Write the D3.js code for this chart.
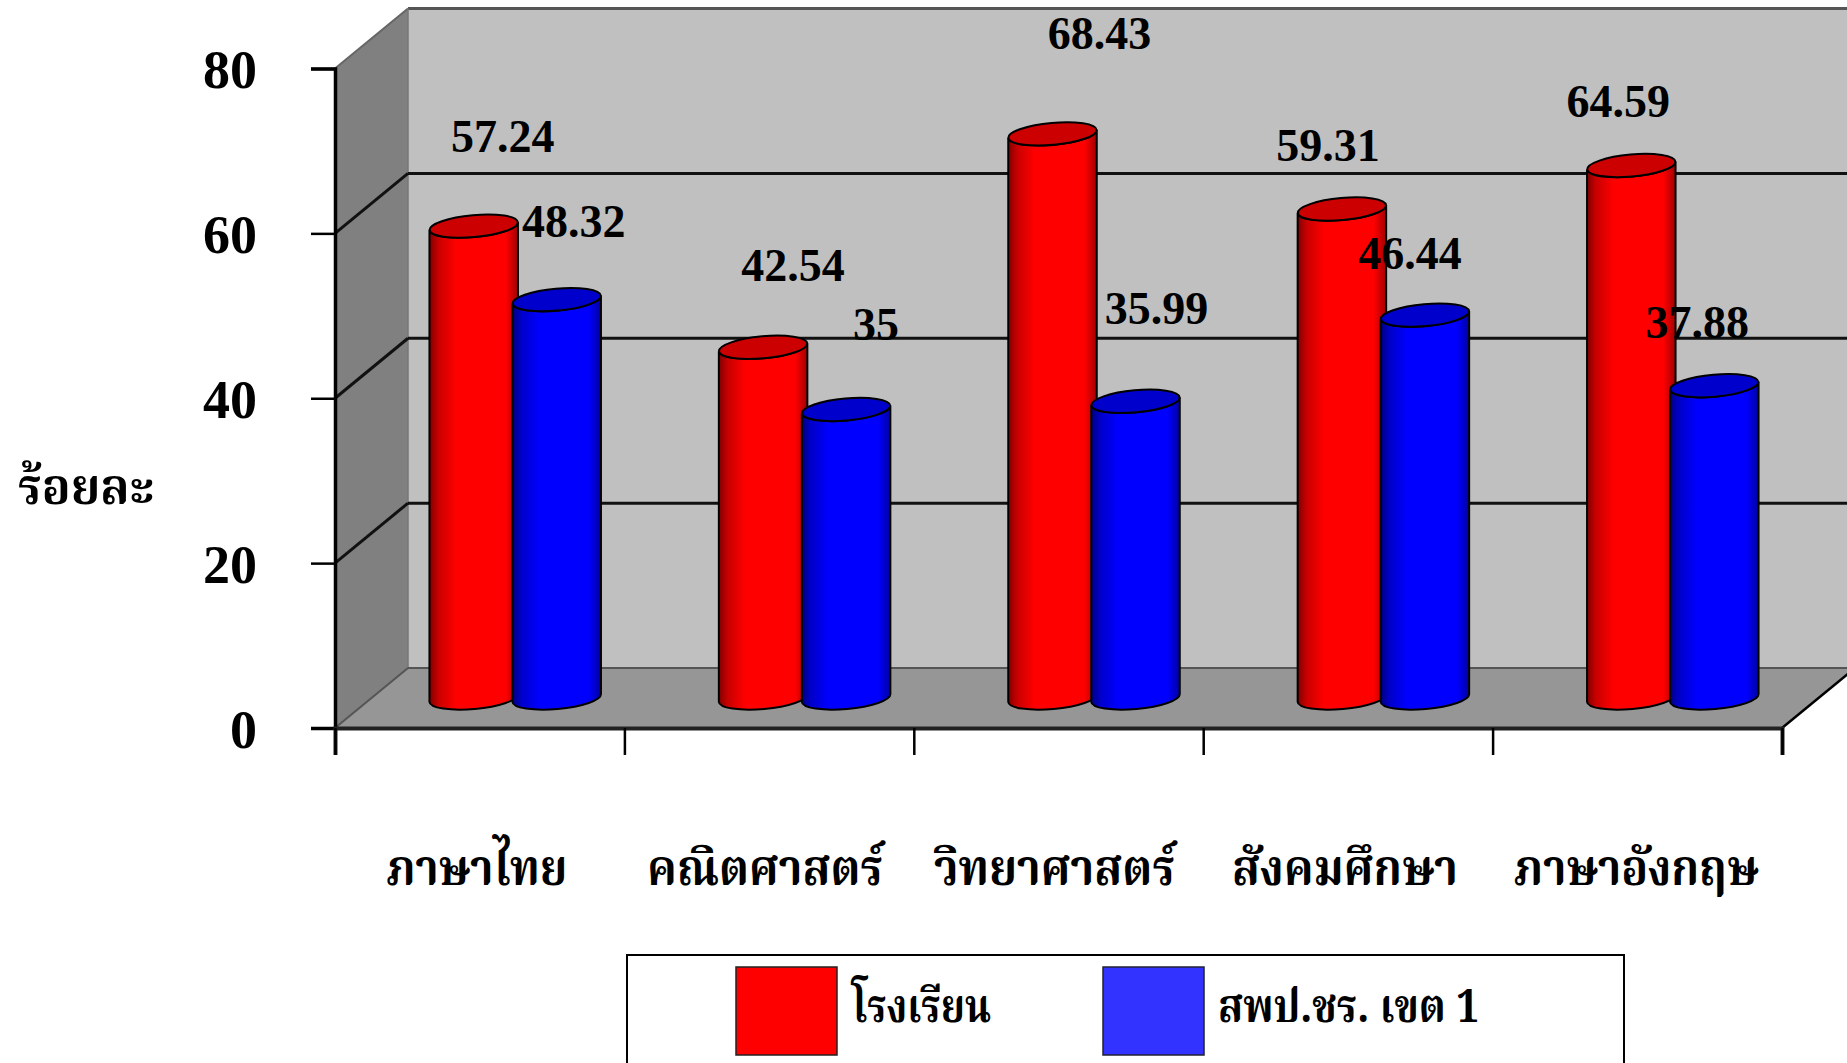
<!DOCTYPE html>
<html>
<head>
<meta charset="utf-8">
<script src="https://cdn.jsdelivr.net/npm/d3@7"></script>
<style>
  html, body { margin: 0; padding: 0; background: #fff; overflow: hidden; }
  svg { display: block; }
  text { font-family: "Liberation Serif", "Noto Serif Thai", "Noto Sans Thai", "DejaVu Serif", serif; font-weight: bold; fill: #000; }
  .thai { font-family: "Noto Serif Thai", "Noto Sans Thai", "Loma", "Garuda", "Liberation Serif", "DejaVu Sans", serif; }
</style>
</head>
<body>
<div id="chart"></div>
<script>
const categories = ['ภาษาไทย', 'คณิตศาสตร์', 'วิทยาศาสตร์', 'สังคมศึกษา', 'ภาษาอังกฤษ'];
const school = [57.24, 42.54, 68.43, 59.31, 64.59];
const district = [48.32, 35, 35.99, 46.44, 37.88];
const schoolLabels = ['57.24', '42.54', '68.43', '59.31', '64.59'];
const districtLabels = ['48.32', '35', '35.99', '46.44', '37.88'];
const yTicks = [0, 20, 40, 60, 80];
const seriesNames = ['โรงเรียน', 'สพป.ชร. เขต 1'];

// labels were dragged by hand in the original, offsets from the top of each bar
const schoolNudge = [[29, -104], [30, -96], [47, -115], [-14, -78], [-13, -79]];
const districtNudge = [[17, -93], [30, -99], [21, -107], [-15, -76], [-17, -78]];
const categoryWidths = [181, 236, 241, 226, 245];
const categoryShift = [1, 0, 0, 1, 3];

const W = 1847, H = 1063;
const left = 335, right = 1782, top80 = 68.5, bottom = 728;
const depthX = 73, depthY = 60;
const barW = 88.5, overlap = 5.5, tilt = 4, capB = 11;

const svg = d3.select('#chart').append('svg').attr('width', W).attr('height', H);

const y = d3.scaleLinear().domain([0, 80]).range([bottom, top80]);
const x = d3.scaleBand().domain(categories).range([left, right]);
const xEdges = d3.scaleLinear().domain([0, categories.length]).range([left, right]);

const defs = svg.append('defs');
function cylGradient(id, dark, mid, bright, rim) {
    const g = defs.append('linearGradient').attr('id', id);
    g.append('stop').attr('offset', '0%').attr('stop-color', dark);
    g.append('stop').attr('offset', '10%').attr('stop-color', mid);
    g.append('stop').attr('offset', '30%').attr('stop-color', bright);
    g.append('stop').attr('offset', '86%').attr('stop-color', bright);
    g.append('stop').attr('offset', '100%').attr('stop-color', rim);
}
cylGradient('redCyl', '#800000', '#c80000', '#ff0000', '#a00000');
cylGradient('blueCyl', '#000080', '#0000c8', '#0000ff', '#0000a0');

// walls and floor
svg.append('polygon').attr('fill', '#c0c0c0').attr('stroke', 'none')
    .attr('points', [[left + depthX, top80 - depthY], [W, top80 - depthY], [W, bottom - depthY], [left + depthX, bottom - depthY]].join(' '));
svg.append('polygon').attr('fill', '#808080')
    .attr('points', [[left, top80], [left + depthX, top80 - depthY], [left + depthX, bottom - depthY], [left, bottom]].join(' '));
svg.append('polygon').attr('fill', '#969696')
    .attr('points', [[left, bottom], [right, bottom], [right + depthX, bottom - depthY], [left + depthX, bottom - depthY]].join(' '));

// top and back edges of the box
svg.append('line').attr('x1', left + depthX).attr('x2', W).attr('y1', top80 - depthY).attr('y2', top80 - depthY)
    .attr('stroke', '#555').attr('stroke-width', 3);
svg.append('line').attr('x1', left).attr('y1', top80).attr('x2', left + depthX).attr('y2', top80 - depthY)
    .attr('stroke', '#666').attr('stroke-width', 2);
svg.append('line').attr('x1', left + depthX).attr('y1', top80 - depthY).attr('x2', left + depthX).attr('y2', bottom - depthY)
    .attr('stroke', '#777').attr('stroke-width', 1.5);
svg.append('line').attr('x1', left + depthX).attr('x2', W).attr('y1', bottom - depthY).attr('y2', bottom - depthY)
    .attr('stroke', '#555').attr('stroke-width', 2);
svg.append('line').attr('x1', left).attr('y1', bottom).attr('x2', left + depthX).attr('y2', bottom - depthY)
    .attr('stroke', '#555').attr('stroke-width', 2);
svg.append('line').attr('x1', right).attr('y1', bottom).attr('x2', right + depthX).attr('y2', bottom - depthY)
    .attr('stroke', '#000').attr('stroke-width', 2.5);

// gridlines, back wall plus the slanted bit on the side wall
const grid = svg.append('g').attr('stroke', '#111').attr('stroke-width', 3);
yTicks.filter(d => d > 0 && d < 80).forEach(d => {
    grid.append('line').attr('x1', left + depthX).attr('x2', W).attr('y1', y(d) - depthY).attr('y2', y(d) - depthY);
    grid.append('line').attr('x1', left).attr('x2', left + depthX).attr('y1', y(d)).attr('y2', y(d) - depthY);
});

// cylinders
function drawCylinder(g, cx, topY, baseY, fill, capFill) {
    const rx = barW / 2;
    const rot = Math.atan2(-2 * tilt, barW) * 180 / Math.PI;
    const arc = `A${rx},${capB} ${rot} 0 `;
    const xl = cx - rx, xr = cx + rx;
    g.append('path')
        .attr('d', `M${xl},${topY + tilt} L${xl},${baseY + tilt} ${arc}0 ${xr},${baseY - tilt} L${xr},${topY - tilt} ${arc}1 ${xl},${topY + tilt} Z`)
        .attr('fill', `url(#${fill})`).attr('stroke', '#000').attr('stroke-width', 2);
    g.append('ellipse')
        .attr('cx', cx).attr('cy', topY)
        .attr('rx', rx).attr('ry', capB)
        .attr('transform', `rotate(${rot} ${cx} ${topY})`)
        .attr('fill', capFill).attr('stroke', '#000').attr('stroke-width', 2);
}

const bars = svg.append('g');
const labels = [];
categories.forEach((c, i) => {
    const mid = x(c) + x.bandwidth() / 2 + depthX / 2 - 1;
    const cxRed = mid - (barW - overlap) / 2;
    const cxBlue = mid + (barW - overlap) / 2;
    const shift = depthY / 2;
    drawCylinder(bars, cxRed, y(school[i]) - shift, y(0) - shift, 'redCyl', '#cc0000');
    drawCylinder(bars, cxBlue, y(district[i]) - shift, y(0) - shift, 'blueCyl', '#0000cc');
    labels.push({ t: schoolLabels[i], x: cxRed + schoolNudge[i][0], y: y(school[i]) + schoolNudge[i][1] });
    labels.push({ t: districtLabels[i], x: cxBlue + districtNudge[i][0], y: y(district[i]) + districtNudge[i][1] });
});

svg.append('g').selectAll('text').data(labels).join('text')
    .attr('x', d => d.x).attr('y', d => d.y)
    .attr('text-anchor', 'middle').attr('font-size', 46)
    .text(d => d.t);

// axes
const yAxis = svg.append('g').attr('transform', `translate(${left},0)`)
    .call(d3.axisLeft(y).tickValues(yTicks).tickSize(24).tickPadding(54));
yAxis.select('.domain').attr('stroke', '#000').attr('stroke-width', 3.5);
yAxis.selectAll('.tick line').attr('stroke', '#000').attr('stroke-width', 2.5);
yAxis.selectAll('.tick text')
    .attr('font-size', 54).attr('font-family', '"Liberation Serif", serif').attr('font-weight', 'bold')
    .attr('fill', '#000').attr('dy', 19);

const xAxis = svg.append('g').attr('transform', `translate(0,${bottom})`)
    .call(d3.axisBottom(xEdges).ticks(categories.length).tickSize(27).tickFormat(''));
xAxis.select('.domain').attr('stroke', '#222').attr('stroke-width', 4);
xAxis.selectAll('.tick line').attr('stroke', '#000').attr('stroke-width', 2.5);

// category names
svg.append('g').selectAll('text').data(categories).join('text')
    .attr('class', 'thai')
    .attr('x', (d, i) => x(d) + x.bandwidth() / 2 - 4 + categoryShift[i])
    .attr('y', 885)
    .attr('text-anchor', 'middle').attr('font-size', 50)
    .attr('textLength', (d, i) => categoryWidths[i]).attr('lengthAdjust', 'spacingAndGlyphs')
    .text(d => d);

// y title
svg.append('text').attr('class', 'thai')
    .attr('x', 86).attr('y', 504).attr('text-anchor', 'middle').attr('font-size', 50)
    .attr('textLength', 136).attr('lengthAdjust', 'spacingAndGlyphs')
    .text('ร้อยละ');

// legend, runs off the bottom of the page in the original
const legend = svg.append('g');
legend.append('rect').attr('x', 627).attr('y', 955).attr('width', 997).attr('height', 130)
    .attr('fill', '#fff').attr('stroke', '#000').attr('stroke-width', 2);
legend.append('rect').attr('x', 736).attr('y', 967).attr('width', 101).attr('height', 88)
    .attr('fill', '#ff0000').attr('stroke', '#222').attr('stroke-width', 1.5);
legend.append('rect').attr('x', 1103).attr('y', 967).attr('width', 101).attr('height', 88)
    .attr('fill', '#3333ff').attr('stroke', '#223').attr('stroke-width', 1.5);
legend.append('text').attr('class', 'thai').attr('x', 852).attr('y', 1022).attr('font-size', 46)
    .attr('textLength', 139).attr('lengthAdjust', 'spacingAndGlyphs').text(seriesNames[0]);
legend.append('text').attr('class', 'thai').attr('x', 1218).attr('y', 1022).attr('font-size', 46)
    .attr('textLength', 261).attr('lengthAdjust', 'spacingAndGlyphs').text(seriesNames[1]);
</script>
</body>
</html>
